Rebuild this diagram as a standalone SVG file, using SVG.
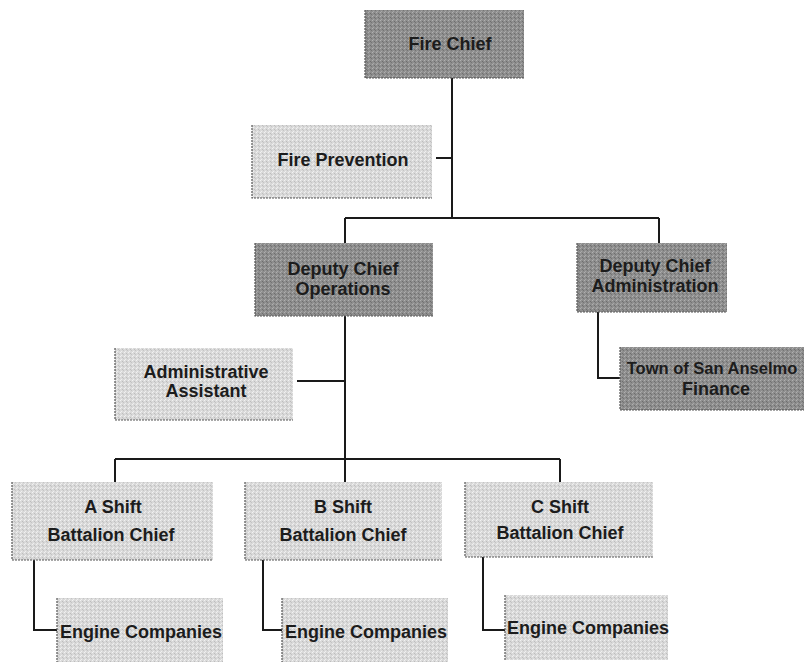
<svg xmlns="http://www.w3.org/2000/svg" width="804" height="665" viewBox="0 0 804 665">
<defs>
<pattern id="pd" width="4" height="4" patternUnits="userSpaceOnUse">
<rect width="4" height="4" fill="#8e8e8e"/>
<rect x="0" y="0" width="1" height="1" fill="#b0b0b0"/>
<rect x="2" y="1" width="1" height="1" fill="#6e6e6e"/>
<rect x="1" y="3" width="1" height="1" fill="#a8a8a8"/>
<rect x="3" y="2" width="1" height="1" fill="#747474"/>
</pattern>
<pattern id="pl" width="4" height="4" patternUnits="userSpaceOnUse">
<rect width="4" height="4" fill="#d9d9d9"/>
<rect x="0" y="0" width="1" height="1" fill="#f2f2f2"/>
<rect x="2" y="1" width="1" height="1" fill="#bdbdbd"/>
<rect x="1" y="3" width="1" height="1" fill="#efefef"/>
<rect x="3" y="2" width="1" height="1" fill="#c4c4c4"/>
</pattern>
</defs>
<style>
.dark{fill:url(#pd);}
.light{fill:url(#pl);}
.edge{fill:none;stroke:#555;stroke-width:1.2;stroke-dasharray:2 1;}
.t{font-family:"Liberation Sans",Arial,sans-serif;font-size:18px;font-weight:bold;fill:#1c1c1c;text-anchor:middle;}
.c{fill:none;stroke:#1a1a1a;stroke-width:2;}
</style>
<rect width="804" height="665" fill="#ffffff"/>
<g id="connectors">
<path class="c" d="M452 78 V218"/>
<path class="c" d="M436 158 H452"/>
<path class="c" d="M345 218 H659"/>
<path class="c" d="M345 218 V243"/>
<path class="c" d="M659 218 V243"/>
<path class="c" d="M345 316 V482"/>
<path class="c" d="M297 381 H345"/>
<path class="c" d="M598 312 V378 H620"/>
<path class="c" d="M115 459 H560"/>
<path class="c" d="M115 459 V482"/>
<path class="c" d="M560 459 V482"/>
<path class="c" d="M34 560 V630 H57"/>
<path class="c" d="M263 560 V630 H282"/>
<path class="c" d="M483 557 V630 H505"/>
</g>
<g id="fire-chief">
<rect class="dark" x="365" y="10" width="159" height="68"/>
<path class="edge" d="M365 10 V78 H524"/>
<text class="t" x="450" y="50">Fire Chief</text>
</g>
<g id="fire-prevention">
<rect class="light" x="252" y="125" width="180" height="73"/>
<path class="edge" d="M252 125 V198 H432"/>
<text class="t" x="343" y="166">Fire Prevention</text>
</g>
<g id="deputy-ops">
<rect class="dark" x="255" y="243" width="178" height="73"/>
<path class="edge" d="M255 243 V316 H433"/>
<text class="t" x="343" y="275">Deputy Chief</text>
<text class="t" x="343" y="295">Operations</text>
</g>
<g id="deputy-admin">
<rect class="dark" x="577" y="243" width="150" height="69"/>
<path class="edge" d="M577 243 V312 H727"/>
<text class="t" x="655" y="272">Deputy Chief</text>
<text class="t" x="655" y="292">Administration</text>
</g>
<g id="admin-assistant">
<rect class="light" x="115" y="348" width="178" height="72"/>
<path class="edge" d="M115 348 V420 H293"/>
<text class="t" x="206" y="378">Administrative</text>
<text class="t" x="206" y="397">Assistant</text>
</g>
<g id="town-finance">
<rect class="dark" x="620" y="347" width="190" height="63"/>
<path class="edge" d="M620 347 V410 H810"/>
<text class="t" x="712" y="374" style="font-size:16.5px">Town of San Anselmo</text>
<text class="t" x="716" y="395">Finance</text>
</g>
<g id="a-shift">
<rect class="light" x="12" y="482" width="201" height="78"/>
<path class="edge" d="M12 482 V560 H213"/>
<text class="t" x="113" y="513">A Shift</text>
<text class="t" x="111" y="541">Battalion Chief</text>
</g>
<g id="b-shift">
<rect class="light" x="245" y="482" width="197" height="78"/>
<path class="edge" d="M245 482 V560 H442"/>
<text class="t" x="343" y="513">B Shift</text>
<text class="t" x="343" y="541">Battalion Chief</text>
</g>
<g id="c-shift">
<rect class="light" x="465" y="482" width="188" height="75"/>
<path class="edge" d="M465 482 V557 H653"/>
<text class="t" x="560" y="513">C Shift</text>
<text class="t" x="560" y="539">Battalion Chief</text>
</g>
<g id="engine-a">
<rect class="light" x="57" y="598" width="166" height="64"/>
<path class="edge" d="M57 598 V662"/>
<text class="t" x="141" y="638">Engine Companies</text>
</g>
<g id="engine-b">
<rect class="light" x="282" y="598" width="166" height="64"/>
<path class="edge" d="M282 598 V662"/>
<text class="t" x="366" y="638">Engine Companies</text>
</g>
<g id="engine-c">
<rect class="light" x="505" y="595" width="163" height="65"/>
<path class="edge" d="M505 595 V660"/>
<text class="t" x="588" y="634">Engine Companies</text>
</g>
</svg>
